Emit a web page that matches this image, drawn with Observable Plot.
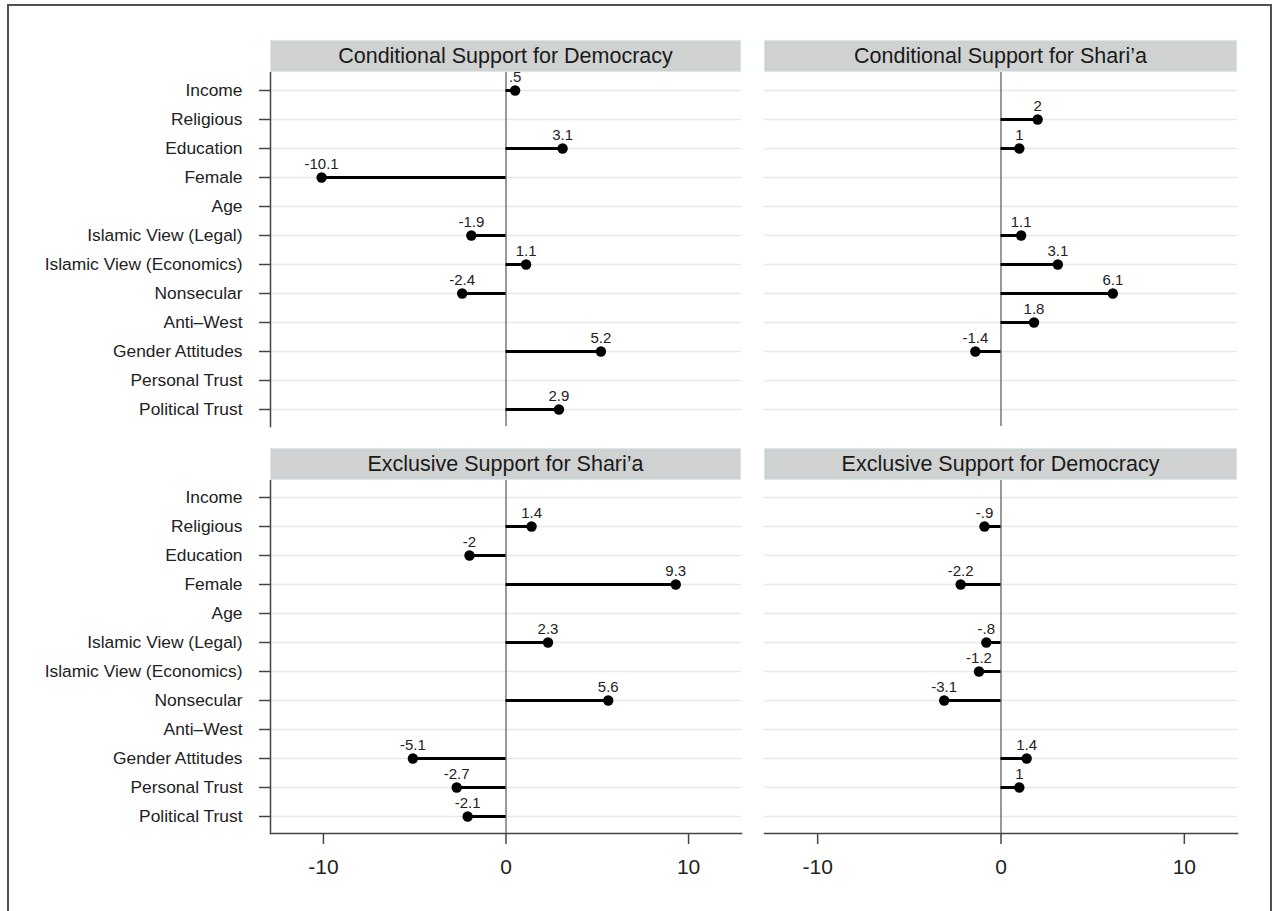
<!DOCTYPE html>
<html><head><meta charset="utf-8">
<script src="https://cdn.jsdelivr.net/npm/d3@7"></script>
<script src="https://cdn.jsdelivr.net/npm/@observablehq/plot@0.6"></script>
<style>
body{margin:0;background:#fff;font-family:"Liberation Sans",Arial,sans-serif;}
#wrap{position:relative;width:1273px;height:911px;overflow:hidden;background:#fff;}
#border{position:absolute;left:7px;top:4px;width:1265px;height:1000px;border:2px solid #505050;box-sizing:border-box;}
.hdr{position:absolute;height:32px;background:#d0d2d2;border:1px solid #d9e7ef;box-sizing:border-box;font-size:21.5px;color:#1a1a1a;text-align:center;line-height:30px;white-space:nowrap;}
.panel{position:absolute;}
</style></head><body><div id="wrap"><div id="border"></div></div>
<script>
// ---- data ----
const rows = ["Income","Religious","Education","Female","Age","Islamic View (Legal)","Islamic View (Economics)","Nonsecular","Anti\u2013West","Gender Attitudes","Personal Trust","Political Trust"];
const titles = ["Conditional Support for Democracy","Conditional Support for Shari\u2019a","Exclusive Support for Shari\u2019a","Exclusive Support for Democracy"];
const condDemocracy = [0.5, null, 3.1, -10.1, null, -1.9, 1.1, -2.4, null, 5.2, null, 2.9];
const condSharia    = [null, 2, 1, null, null, 1.1, 3.1, 6.1, 1.8, -1.4, null, null];
const exclSharia    = [null, 1.4, -2, 9.3, null, 2.3, null, 5.6, null, -5.1, -2.7, -2.1];
const exclDemocracy = [null, -0.9, null, -2.2, null, -0.8, -1.2, -3.1, null, 1.4, 1, null];
const xTicks = [-10, 0, 10];
const xDomain = [-12.9, 12.9];

const fmt = v => String(v).replace(/^(-?)0\./, "$1.");
const wrap = document.getElementById("wrap");

const colX = [[270, 741], [764, 1237]];
const rowY = [[72, 426], [480, 833]];
const hdrTop = [40, 448];

function panel(vals, title, col, row) {
  const data = rows.map((r, i) => ({row: r, value: vals[i]})).filter(d => d.value != null);
  const left = col === 0, bottom = row === 1;
  const [x0, x1] = colX[col], [y0, y1] = rowY[row];
  const ml = left ? x0 : 0;
  const mb = bottom ? 60 : 0;
  const marks = [
    Plot.gridY(rows, {stroke: "#e8e8e8", strokeOpacity: 1, strokeWidth: 1.5}),
    Plot.ruleX([0], {stroke: "#555", strokeWidth: 1.2}),
  ];
  if (left) {
    marks.push(Plot.axisY(rows, {tickSize: 11, tickPadding: 17, fontSize: 17.4, strokeWidth: 1.5, stroke: "#444", fill: "#222", label: null}));
    marks.push(Plot.frame({anchor: "left", stroke: "#444", strokeWidth: 1.5}));
  }
  if (bottom) {
    marks.push(Plot.axisX(xTicks, {tickSize: 11, tickPadding: 15, fontSize: 21, strokeWidth: 1.5, stroke: "#444", fill: "#222", label: null, tickFormat: d => String(d)}));
    marks.push(Plot.frame({anchor: "bottom", stroke: "#444", strokeWidth: 1.5}));
  }
  marks.push(
    Plot.ruleY(data, {y: "row", x1: 0, x2: "value", stroke: "black", strokeWidth: 3}),
    Plot.dot(data, {x: "value", y: "row", r: 5.2, fill: "black", stroke: "none"}),
    Plot.text(data, {x: "value", y: "row", text: d => fmt(d.value), dy: -13, fontSize: 15, fill: "#222"})
  );
  const svg = Plot.plot({
    width: ml + (x1 - x0),
    height: (y1 - y0) + mb,
    marginLeft: ml, marginRight: 0, marginTop: 0, marginBottom: mb,
    x: {domain: xDomain, axis: null},
    y: {type: "point", domain: rows, padding: 0.57, axis: null},
    style: {fontFamily: "'Liberation Sans', Arial, sans-serif", color: "#222", background: "transparent", overflow: "visible"},
    marks
  });
  const div = document.createElement("div");
  div.className = "panel";
  div.style.left = (x0 - ml) + "px";
  div.style.top = y0 + "px";
  div.appendChild(svg);
  wrap.appendChild(div);

  const h = document.createElement("div");
  h.className = "hdr";
  h.style.left = x0 + "px";
  h.style.top = hdrTop[row] + "px";
  h.style.width = (x1 - x0) + "px";
  h.textContent = title;
  wrap.appendChild(h);
}

panel(condDemocracy, titles[0], 0, 0);
panel(condSharia, titles[1], 1, 0);
panel(exclSharia, titles[2], 0, 1);
panel(exclDemocracy, titles[3], 1, 1);
</script></body></html>
